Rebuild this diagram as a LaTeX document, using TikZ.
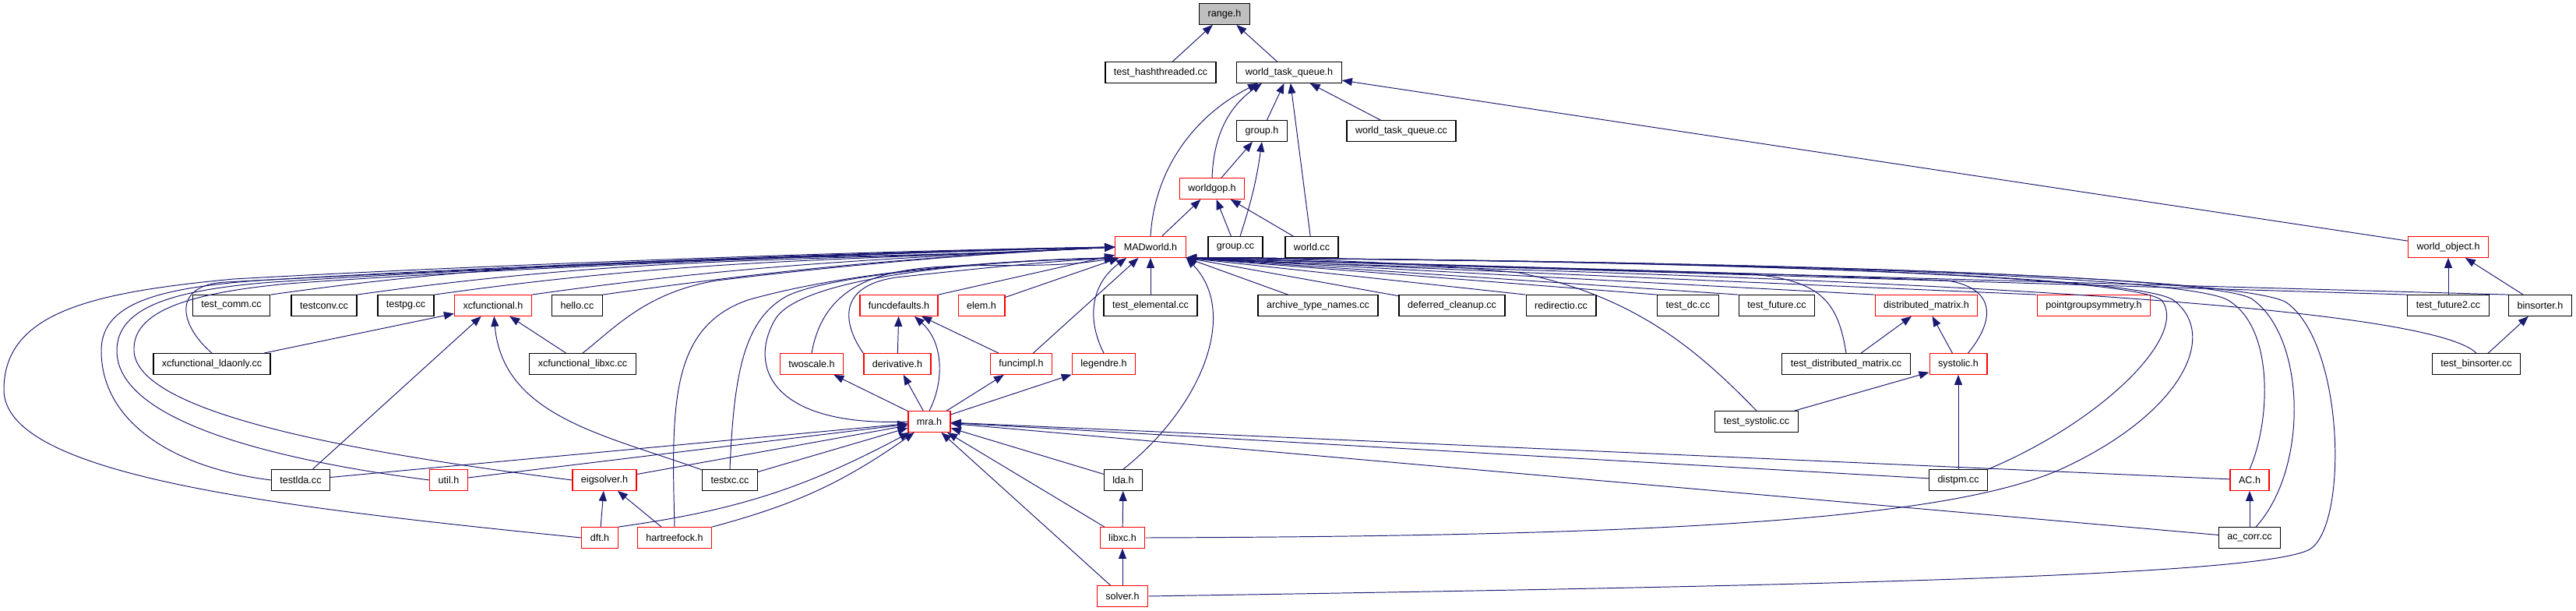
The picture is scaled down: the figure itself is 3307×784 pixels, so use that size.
\documentclass[tikz,border=0pt]{standalone}
\usepackage{fontspec}
\setmainfont{Liberation Sans}
\usepackage{tikz}
\usetikzlibrary{arrows.meta}
\definecolor{edgeblue}{HTML}{191970}
\definecolor{rootgrey}{HTML}{BFBFBF}

\begin{document}
\begin{tikzpicture}[
    x=0.02cm, y=0.02cm,
    box/.style={
        rectangle,
        draw=black,
        fill=white,
        line width=0.75pt,
        minimum height=0.53cm,
        inner xsep=0.22cm,
        inner ysep=0pt,
        font=\fontsize{7.15}{8}\selectfont
    },
    redbox/.style={box, draw=red},
    rootbox/.style={box, fill=rootgrey},
    arr/.style={
        draw=edgeblue,
        line width=0.55pt,
        -{Triangle[length=2.6mm,width=2mm]}
    }
]

\useasboundingbox (0,0) rectangle (3307,-784);

\node[rootbox] (range) at (1572,-18) {range.h};
\node[box] (thash) at (1490,-93) {test\_hashthreaded.cc};
\node[box] (wtq) at (1655,-93) {world\_task\_queue.h};
\node[box] (group) at (1620,-168) {group.h};
\node[box] (wtqcc) at (1799,-168) {world\_task\_queue.cc};
\node[redbox] (wgop) at (1556,-242) {worldgop.h};
\node[redbox] (mad) at (1477,-317) {MADworld.h};
\node[box] (gcc) at (1586,-317) {group.cc};
\node[box] (wcc) at (1684,-317) {world.cc};
\node[redbox] (wobj) at (3143,-317) {world\_object.h};

\node[box] (tcomm) at (297,-392) {test\_comm.cc};
\node[box] (tconv) at (416,-392) {testconv.cc};
\node[box] (tpg) at (521,-392) {testpg.cc};
\node[redbox] (xcf) at (633,-392) {xcfunctional.h};
\node[box] (hello) at (741,-392) {hello.cc};
\node[redbox] (fdef) at (1154,-392) {funcdefaults.h};
\node[redbox] (elem) at (1260,-392) {elem.h};
\node[box] (telem) at (1477,-392) {test\_elemental.cc};
\node[box] (atn) at (1692,-392) {archive\_type\_names.cc};
\node[box] (dclean) at (1864,-392) {deferred\_cleanup.cc};
\node[box] (redir) at (2004,-392) {redirectio.cc};
\node[box] (tdc) at (2167,-392) {test\_dc.cc};
\node[box] (tfut) at (2281,-392) {test\_future.cc};
\node[redbox] (dmat) at (2473,-392) {distributed\_matrix.h};
\node[redbox] (pgs) at (2688,-392) {pointgroupsymmetry.h};
\node[box] (tfut2) at (3143,-392) {test\_future2.cc};
\node[box] (bins) at (3261,-392) {binsorter.h};

\node[box] (xlda) at (272,-467) {xcfunctional\_ldaonly.cc};
\node[box] (xlibxc) at (748,-467) {xcfunctional\_libxc.cc};
\node[redbox] (twos) at (1042,-467) {twoscale.h};
\node[redbox] (deriv) at (1152,-467) {derivative.h};
\node[redbox] (fimpl) at (1311,-467) {funcimpl.h};
\node[redbox] (leg) at (1417,-467) {legendre.h};
\node[box] (tdmat) at (2370,-467) {test\_distributed\_matrix.cc};
\node[redbox] (syst) at (2514,-467) {systolic.h};
\node[box] (tbins) at (3179,-467) {test\_binsorter.cc};

\node[redbox] (mra) at (1193,-541) {mra.h};
\node[box] (tsyst) at (2255,-541) {test\_systolic.cc};

\node[box] (tlda) at (386,-616) {testlda.cc};
\node[redbox] (util) at (576,-616) {util.h};
\node[redbox] (eig) at (776,-616) {eigsolver.h};
\node[box] (txc) at (937,-616) {testxc.cc};
\node[box] (lda) at (1442,-616) {lda.h};
\node[box] (distpm) at (2514,-616) {distpm.cc};
\node[redbox] (ach) at (2888,-616) {AC.h};

\node[redbox] (dft) at (770,-690) {dft.h};
\node[redbox] (hf) at (866,-690) {hartreefock.h};
\node[redbox] (libxc) at (1441,-690) {libxc.h};
\node[box] (accorr) at (2888,-690) {ac\_corr.cc};

\node[redbox] (solver) at (1441,-765) {solver.h};

% top part
\draw[arr] (thash) -- (range);
\draw[arr] (wtq) -- (range);
\draw[arr] (group) -- (wtq);
\draw[arr] (wtqcc) -- (wtq);
\draw[arr] (wcc) -- (wtq);
\draw[arr] (wobj) -- (wtq);
\draw[arr] (mad.north) .. controls (1482,-220) and (1530,-150) .. ([xshift=-0.8cm]wtq.south);
\draw[arr] (wgop.north) .. controls (1558,-170) and (1580,-135) .. ([xshift=-0.7cm]wtq.south);
\draw[arr] (wgop) -- (group);
\draw[arr] ([xshift=0.12cm]gcc.north) to[bend right=5] (group.south);
\draw[arr] (mad) -- (wgop);
\draw[arr] (gcc) -- (wgop);
\draw[arr] (wcc) -- (wgop);
\draw[arr] (tfut2) -- (wobj);
\draw[arr] (bins) -- (wobj);
\draw[arr] (tbins) -- (bins);

% into MADworld.h from the left
\draw[arr] (tcomm.north east) to[out=8,in=183] (mad.west);
\draw[arr] (tconv.north east) to[out=8,in=183] (mad.west);
\draw[arr] (tpg.north east) to[out=8,in=183] (mad.west);
\draw[arr] (xcf.north east) to[out=8,in=183] (mad.west);
\draw[arr] (hello.north east) to[out=8,in=183] (mad.west);
\draw[arr] (dft.west) .. controls (350,-650) and (5,-610) .. (5,-500) .. controls (5,-400) and (120,-375) .. (300,-358) .. controls (700,-336) and (1200,-320) .. (mad.west);
\draw[arr] (tlda.west) .. controls (220,-600) and (130,-540) .. (130,-450) .. controls (130,-390) and (200,-370) .. (330,-360) .. controls (700,-338) and (1200,-321) .. (mad.west);
\draw[arr] (util.west) .. controls (350,-590) and (150,-540) .. (150,-450) .. controls (150,-395) and (220,-372) .. (350,-362) .. controls (700,-339) and (1200,-322) .. (mad.west);
\draw[arr] (eig.west) .. controls (450,-580) and (175,-530) .. (172,-450) .. controls (170,-400) and (240,-376) .. (370,-364) .. controls (700,-340) and (1200,-323) .. (mad.west);
\draw[arr] (xlda.north) .. controls (228,-415) and (222,-365) .. (290,-362) .. controls (700,-340) and (1200,-322) .. (mad.west);
\draw[arr] (xlibxc.north) .. controls (790,-420) and (830,-375) .. (920,-360) .. controls (1100,-338) and (1300,-322) .. (mad.west);

% into MADworld.h from below
\draw[arr] (hf.north) .. controls (862,-520) and (860,-420) .. (960,-385) .. controls (1100,-345) and (1300,-334) .. (mad.south west);
\draw[arr] (txc.north) .. controls (942,-480) and (955,-410) .. (1010,-380) .. controls (1070,-350) and (1300,-334) .. (mad.south west);
\draw[arr] (mra.west) .. controls (990,-548) and (960,-470) .. (995,-410) .. controls (1030,-350) and (1300,-333) .. (mad.south west);
\draw[arr] (twos.north) to[out=80,in=190] (mad.south west);
\draw[arr] (deriv.north west) .. controls (1085,-420) and (1070,-368) .. (1150,-356) .. controls (1250,-345) and (1350,-335) .. (mad.south west);
\draw[arr] (fdef.north east) -- (mad);
\draw[arr] (elem) -- (mad);
\draw[arr] (telem) -- (mad);
\draw[arr] (fimpl) -- (mad);
\draw[arr] (leg.north) .. controls (1395,-410) and (1400,-365) .. ([xshift=0.3cm]mad.south west);
\draw[arr] (lda.north) .. controls (1545,-520) and (1590,-400) .. (mad.south east);

% into MADworld.h from the right
\draw[arr] (atn) -- (mad.south east);
\draw[arr] (dclean) -- (mad.south east);
\draw[arr] (redir.north west) -- (mad.south east);
\draw[arr] (tdc.north west) -- (mad.south east);
\draw[arr] (tfut.north west) -- (mad.south east);
\draw[arr] (dmat.north west) -- (mad.south east);
\draw[arr] (pgs.north west) -- (mad.south east);
\draw[arr] (tfut2.north west) -- (mad.south east);
\draw[arr] (bins.north west) -- (mad.south east);
\draw[arr] (tdmat.north) .. controls (2360,-390) and (2340,-360) .. (2250,-352) .. controls (2000,-345) and (1700,-336) .. (mad.south east);
\draw[arr] ([xshift=0.25cm]syst.north) .. controls (2562,-410) and (2562,-370) .. (2500,-360) .. controls (2200,-348) and (1700,-336) .. (mad.south east);
\draw[arr] (tsyst.north) .. controls (2180,-450) and (2100,-380) .. (1950,-350) .. controls (1800,-335) and (1650,-332) .. (mad.south east);
\draw[arr] (tbins.north) to[out=135,in=-5,looseness=0.2] (mad.south east);
\draw[arr] (distpm.north east) .. controls (2700,-540) and (2810,-430) .. (2775,-385) .. controls (2720,-345) and (1900,-332) .. (mad.south east);
\draw[arr] (libxc.east) .. controls (2100,-688) and (2500,-670) .. (2650,-600) .. controls (2800,-530) and (2850,-430) .. (2790,-385) .. controls (2730,-345) and (1900,-332) .. (mad.south east);
\draw[arr] (ach.north) .. controls (2915,-540) and (2920,-420) .. (2860,-385) .. controls (2790,-345) and (1900,-332) .. (mad.south east);
\draw[arr] (accorr.60) .. controls (2965,-600) and (2960,-430) .. (2890,-383) .. controls (2820,-345) and (1900,-332) .. (mad.south east);
\draw[arr] (solver.east) .. controls (2300,-752) and (2900,-740) .. (2965,-705) .. controls (3015,-675) and (3010,-440) .. (2935,-388) .. controls (2860,-345) and (1900,-332) .. (mad.south east);

% mra.h and the headers below it
\draw[arr] (mra) -- (twos);
\draw[arr] (mra) -- (deriv);
\draw[arr] (mra) -- (fimpl);
\draw[arr] (mra) -- (leg);
\draw[arr] (mra.north) .. controls (1212,-490) and (1212,-440) .. ([xshift=0.4cm]fdef.south);
\draw[arr] (deriv) -- (fdef);
\draw[arr] (fimpl) -- (fdef);
\draw[arr] (tlda) -- (mra);
\draw[arr] (util) -- (mra);
\draw[arr] (eig) -- (mra);
\draw[arr] (txc) -- (mra);
\draw[arr] (dft.north east) to[bend right=10] (mra);
\draw[arr] (hf.north east) to[bend right=10] (mra);
\draw[arr] (lda) -- (mra);
\draw[arr] (libxc) -- (mra);
\draw[arr] (solver) -- (mra);
\draw[arr] (distpm) -- (mra);
\draw[arr] (ach) -- (mra);
\draw[arr] (accorr) -- (mra);
\draw[arr] (dft) -- (eig);
\draw[arr] (hf) -- (eig);
\draw[arr] (libxc) -- (lda);
\draw[arr] (solver) -- (libxc);

% xcfunctional.h
\draw[arr] (xlda) -- (xcf);
\draw[arr] (xlibxc) -- (xcf);
\draw[arr] (tlda) -- (xcf);
\draw[arr] (txc) to[out=160,in=-85] (xcf);

% distributed matrix
\draw[arr] (tdmat) -- (dmat);
\draw[arr] (syst) -- (dmat);
\draw[arr] (tsyst) -- (syst);
\draw[arr] (distpm) -- (syst);
\draw[arr] (accorr) -- (ach);

\end{tikzpicture}
\end{document}
